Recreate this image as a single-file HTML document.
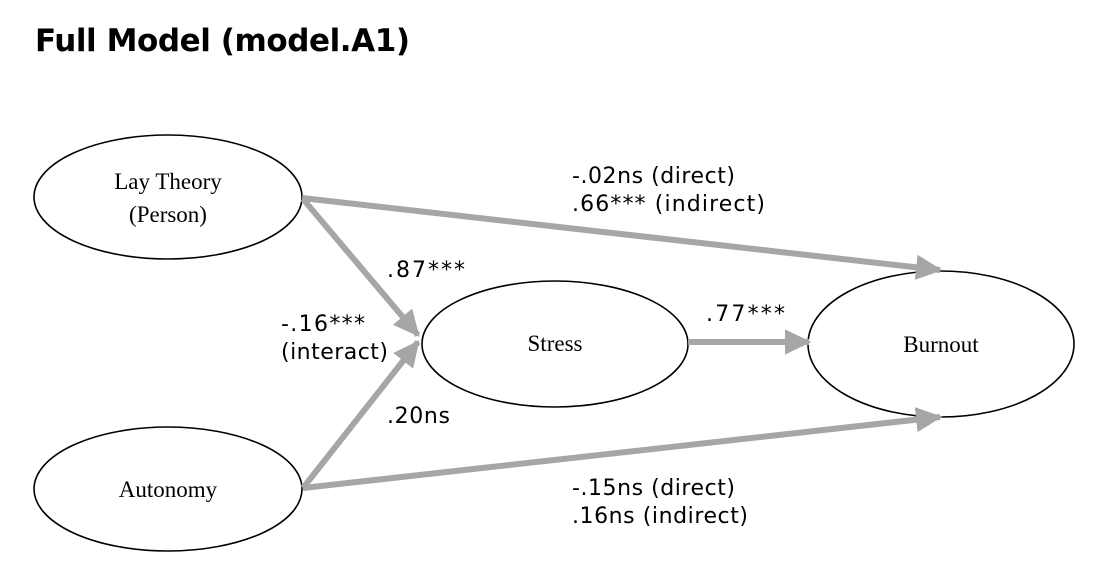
<!DOCTYPE html>
<html><head><style>
body{margin:0;background:#fff;}
svg{display:block}
.s{font-family:"DejaVu Sans","Liberation Sans",sans-serif;font-size:22px;fill:#000}
.r{font-family:"Liberation Serif",serif;font-size:23px;fill:#000}
</style></head><body>
<svg width="1114" height="588" viewBox="0 0 1114 588">
<defs><marker id="a" markerWidth="4.4" markerHeight="4.4" refX="4" refY="2.2" orient="auto" markerUnits="strokeWidth"><polygon points="0,0.1 4.4,2.2 0,4.3" fill="#a6a6a6"/></marker></defs>
<text x="35" y="51" font-family="DejaVu Sans,Liberation Sans,sans-serif" font-weight="bold" font-size="31" fill="#000" textLength="375">Full Model (model.A1)</text>
<g stroke="#000" stroke-width="1.6" fill="none">
<ellipse cx="168" cy="197" rx="134" ry="62"/>
<ellipse cx="168" cy="489" rx="134" ry="62"/>
<ellipse cx="555" cy="344" rx="133" ry="63"/>
<ellipse cx="941" cy="344" rx="133" ry="73"/>
</g>
<g stroke="#a6a6a6" stroke-width="6" fill="none" marker-end="url(#a)">
<line x1="302" y1="198" x2="940" y2="270"/>
<line x1="303" y1="199" x2="418" y2="335"/>
<line x1="303" y1="488" x2="418" y2="342"/>
<line x1="303" y1="488" x2="940" y2="417"/>
<line x1="688" y1="342" x2="809" y2="342"/>
</g>
<text class="r" x="168" y="189" text-anchor="middle">Lay Theory</text>
<text class="r" x="168" y="222" text-anchor="middle">(Person)</text>
<text class="r" x="168" y="497" text-anchor="middle">Autonomy</text>
<text class="r" x="555" y="351" text-anchor="middle">Stress</text>
<text class="r" x="941" y="352" text-anchor="middle">Burnout</text>
<text class="s" x="572" y="183" textLength="163">-.02ns (direct)</text>
<text class="s" x="572" y="211" textLength="193">.66*** (indirect)</text>
<text class="s" x="387" y="277" textLength="78">.87***</text>
<text class="s" x="281" y="331" textLength="84">-.16***</text>
<text class="s" x="281" y="359" textLength="107">(interact)</text>
<text class="s" x="706" y="321" textLength="79">.77***</text>
<text class="s" x="387" y="423" textLength="63">.20ns</text>
<text class="s" x="572" y="495" textLength="163">-.15ns (direct)</text>
<text class="s" x="572" y="523" textLength="176">.16ns (indirect)</text>
</svg>
</body></html>
